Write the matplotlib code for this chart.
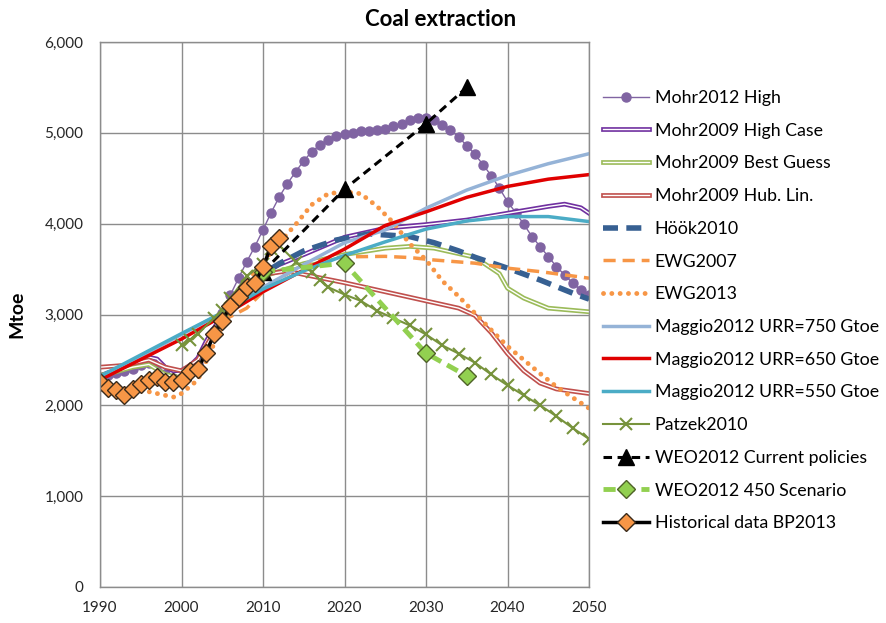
import matplotlib
matplotlib.use("Agg")
import matplotlib.pyplot as plt
import matplotlib.patheffects as pe
from matplotlib.ticker import FuncFormatter, MultipleLocator

plt.rcParams['font.family'] = ['Lato', 'DejaVu Sans']

# ---------------- data ----------------
mohr2012_years = list(range(1990, 2051))
mohr2012_high = [2300, 2330, 2360, 2380, 2400, 2440, 2470, 2450, 2350, 2300,
                 2300, 2370, 2450, 2620, 2820, 3020, 3216, 3400, 3580, 3748,
                 3932, 4122, 4295, 4442, 4570, 4692, 4794, 4867, 4926, 4960,
                 4985, 5000, 5015, 5025, 5035, 5044, 5070, 5100, 5140, 5160,
                 5160, 5140, 5088, 5033, 4952, 4860, 4765, 4648, 4530, 4391,
                 4243, 4122, 3994, 3858, 3748, 3638, 3528, 3436, 3345, 3271,
                 3216]

mohr2009_high_years = [1990, 1992, 1994, 1996, 1997, 1998, 1999, 2000, 2001, 2002, 2003,
                       2005, 2008, 2010, 2012, 2015, 2020, 2025, 2030, 2035, 2040,
                       2045, 2047, 2049, 2050]
mohr2009_high = [2330, 2380, 2450, 2530, 2510, 2420, 2380, 2385, 2430, 2520, 2700,
                 3000, 3300, 3450, 3550, 3660, 3850, 3950, 3990, 4040, 4115,
                 4190, 4215, 4175, 4115]

mohr2009_best_years = [1990, 1992, 1994, 1996, 1998, 2000, 2002, 2004, 2006, 2008, 2010,
                       2015, 2020, 2025, 2028, 2031, 2036, 2039, 2040, 2042, 2045, 2050]
mohr2009_best = [2330, 2370, 2420, 2450, 2340, 2300, 2450, 2800, 3100, 3300, 3420,
                 3560, 3660, 3730, 3750, 3730, 3630, 3450, 3290, 3180, 3070, 3030]

mohr2009_hub_years = [1990, 1993, 1996, 1998, 2000, 2002, 2004, 2006, 2008, 2010, 2013,
                      2015, 2020, 2025, 2030, 2034, 2036, 2038, 2040, 2042, 2044, 2046, 2050]
mohr2009_hub = [2420, 2440, 2500, 2420, 2380, 2500, 2800, 3100, 3320, 3440, 3480,
                3440, 3350, 3250, 3150, 3070, 2990, 2800, 2570, 2380, 2245, 2180, 2130]

hook_years = [1990, 1993, 1996, 1999, 2000, 2002, 2004, 2006, 2008, 2010, 2012, 2015,
              2019, 2023, 2028, 2031, 2034, 2036, 2040, 2044, 2048, 2050]
hook2010 = [2260, 2150, 2260, 2230, 2260, 2390, 2780, 3090, 3300, 3450, 3560, 3700,
            3820, 3888, 3858, 3790, 3700, 3630, 3510, 3380, 3235, 3170]

ewg2007_years = [2005, 2008, 2010, 2012, 2015, 2018, 2020, 2025, 2028, 2031, 2036,
                 2040, 2044, 2050]
ewg2007 = [2930, 3070, 3250, 3400, 3540, 3620, 3635, 3640, 3627, 3600, 3565,
           3510, 3472, 3400]

ewg2013_years = [1990, 1993, 1996, 1998, 1999, 2000, 2002, 2004, 2006, 2008, 2010, 2012,
                 2014, 2016, 2018, 2020, 2022, 2024, 2026, 2028, 2030, 2032, 2034,
                 2036, 2038, 2040, 2042, 2044, 2046, 2048, 2050]
ewg2013 = [2230, 2180, 2150, 2110, 2090, 2130, 2280, 2680, 3050, 3350, 3580, 3790,
           3990, 4210, 4330, 4350, 4330, 4190, 4010, 3780, 3600, 3370, 3200,
           3014, 2830, 2650, 2500, 2350, 2206, 2085, 1968]

maggio_years = [1990, 2000, 2005, 2010, 2015, 2020, 2025, 2030, 2035, 2040, 2045, 2050]
maggio750 = [2300, 2780, 3020, 3300, 3550, 3790, 3930, 4170, 4370, 4530, 4660, 4770]
maggio650 = [2280, 2730, 2980, 3250, 3490, 3720, 3980, 4130, 4290, 4410, 4490, 4540]
maggio550 = [2320, 2790, 3020, 3280, 3480, 3650, 3800, 3940, 4030, 4078, 4078, 4023]

patzek_years = [2000, 2001, 2002, 2004, 2005, 2006, 2008, 2010, 2011, 2012, 2014, 2016,
                2017, 2018, 2020, 2022, 2024, 2026, 2028, 2030, 2032, 2034, 2036,
                2038, 2040, 2042, 2044, 2046, 2048, 2050]
patzek2010 = [2660, 2720, 2790, 2960, 3050, 3180, 3420, 3560, 3720, 3760, 3580, 3470,
              3380, 3300, 3220, 3150, 3040, 2960, 2880, 2780, 2660, 2570, 2470,
              2340, 2220, 2110, 2000, 1880, 1750, 1630]

weo_years = [2010, 2020, 2030, 2035]
weo_current = [3470, 4380, 5100, 5500]
weo_450 = [3470, 3565, 2574, 2324]

hist_years = list(range(1990, 2013))
hist_bp2013 = [2254, 2188, 2170, 2115, 2177, 2236, 2280, 2309, 2261, 2261, 2280,
               2379, 2398, 2574, 2783, 2933, 3095, 3197, 3307, 3345, 3521, 3755, 3840]

labels = ["Mohr2012 High", "Mohr2009 High Case", "Mohr2009 Best Guess",
          "Mohr2009 Hub. Lin.", "Höök2010", "EWG2007", "EWG2013",
          "Maggio2012 URR=750 Gtoe", "Maggio2012 URR=650 Gtoe",
          "Maggio2012 URR=550 Gtoe", "Patzek2010", "WEO2012 Current policies",
          "WEO2012 450 Scenario", "Historical data BP2013"]

# ---------------- figure ----------------
fig = plt.figure(figsize=(8.87, 6.23), dpi=100)
ax = fig.add_axes([100/887, 1-587/623, 489/887, 545/623])


def double(color):
    return [pe.Stroke(linewidth=3.4, foreground=color), pe.Normal()]


ax.plot(mohr2012_years, mohr2012_high, color='#8064A2', lw=1.0, marker='o',
        ms=6.5, label=labels[0])
ax.plot(mohr2009_high_years, mohr2009_high, color='white', lw=1.0,
        path_effects=double('#7030A0'), label=labels[1])
ax.plot(mohr2009_best_years, mohr2009_best, color='white', lw=1.0,
        path_effects=double('#9BBB59'), label=labels[2])
ax.plot(mohr2009_hub_years, mohr2009_hub, color='white', lw=1.0,
        path_effects=double('#C0504D'), label=labels[3])
ax.plot(hook_years, hook2010, color='#376092', lw=4.0, dashes=(2.7, 1.5),
        label=labels[4])
ax.plot(ewg2007_years, ewg2007, color='#F79646', lw=2.5, dashes=(3.5, 2.0),
        label=labels[5])
ax.plot(ewg2013_years, ewg2013, color='#F79646', lw=3.5, dashes=(0.01, 1.7),
        dash_capstyle='round', label=labels[6])
ax.plot(maggio_years, maggio750, color='#95B3D7', lw=2.5, label=labels[7])
ax.plot(maggio_years, maggio650, color='#E00000', lw=2.5, label=labels[8])
ax.plot(maggio_years, maggio550, color='#4BACC6', lw=2.5, label=labels[9])
ax.plot(patzek_years, patzek2010, color='#77933C', lw=1.5, marker='x', ms=8,
        mew=1.5, label=labels[10])
ax.plot(weo_years, weo_current, color='black', lw=2.2, dashes=(2.8, 1.8),
        marker='^', ms=11, label=labels[11])
ax.plot(weo_years, weo_450, color='#92D050', lw=3.5, dashes=(2.5, 1.4),
        marker='D', ms=9, mfc='#92D050', mec='#4F6228', mew=1.0, label=labels[12])
ax.plot(hist_years, hist_bp2013, color='black', lw=2.5, marker='D', ms=9.5,
        mfc='#F79646', mec='#3A2A1A', mew=1.0, label=labels[13])

ax.set_xlim(1990, 2050)
ax.set_ylim(0, 6000)
ax.xaxis.set_major_locator(MultipleLocator(10))
ax.yaxis.set_major_locator(MultipleLocator(1000))
ax.yaxis.set_major_formatter(FuncFormatter(lambda v, p: f"{int(v):,}"))
ax.grid(True, color='#8C8C8C', lw=1.0)
ax.set_axisbelow(True)
for s in ax.spines.values():
    s.set_color('#8C8C8C')
    s.set_linewidth(1.0)
ax.tick_params(length=0, labelsize=11, labelcolor='#262626')
ax.tick_params(axis='x', pad=10)
ax.tick_params(axis='y', pad=12)
ax.set_ylabel("Mtoe", fontsize=14, fontweight='bold', labelpad=14)

fig.text(441/887, 1-20/623, "Coal extraction", ha='center', va='center',
         fontsize=16, fontweight='bold')

fig.legend(loc='upper left', bbox_to_anchor=(603/887, 1-90/623), frameon=False,
           fontsize=12.8, handlelength=2.6, handletextpad=0.3, labelspacing=0.94,
           borderaxespad=0, borderpad=0)

fig.savefig("out.png", dpi=100)
